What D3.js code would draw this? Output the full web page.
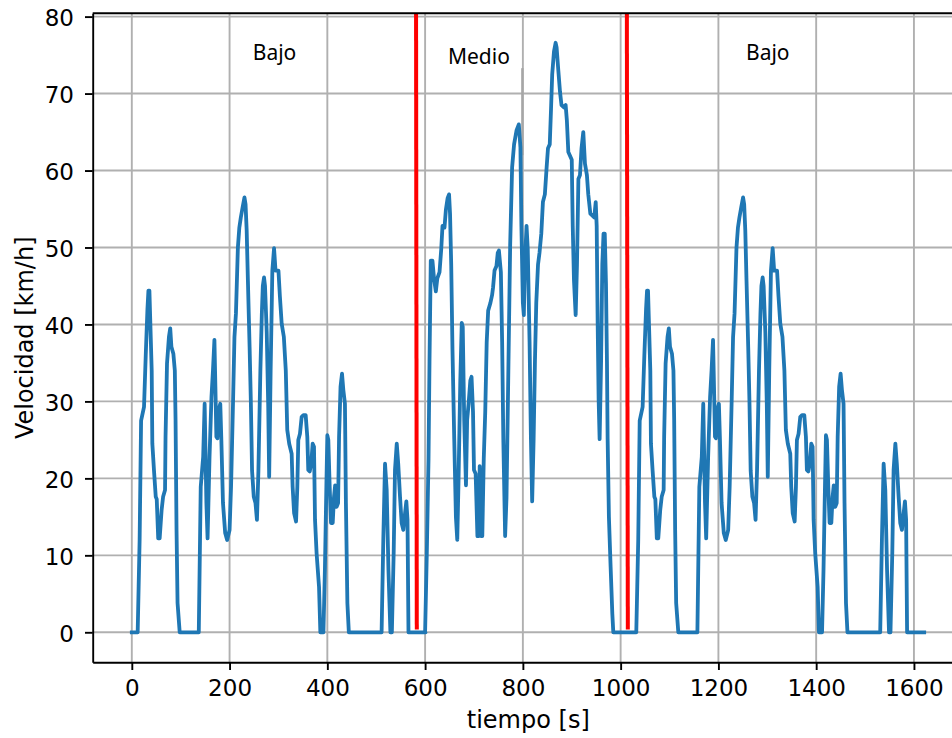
<!DOCTYPE html>
<html>
<head>
<meta charset="utf-8">
<script src="https://cdn.jsdelivr.net/npm/d3@7"></script>
<style>
  body { margin: 0; background: #fff; }
  svg text { font-family: "DejaVu Sans", sans-serif; }
</style>
</head>
<body>
<div id="chart"></div>
<script>
////////////////// Data ////////////////////
// fase "Bajo": [t local (s), v (km/h)]
var bajo = [
  [0,0],[12,0],[14,6],[16,12],[19,27.5],[25,29.3],[28.5,36],[32,42],[34,44.4],[36,44.4],[38,40],
  [40.7,34],[42,24.5],[45.4,21],[49,17.6],[51,17.3],[54,12.2],[57,12.2],[61,15.9],[64,17.6],
  [68,18.5],[69,25.4],[72,34.9],[76,38.4],[78.6,39.5],[81,37.1],[85,36.2],[88,34],[89.5,27.6],
  [91.5,13.3],[93.6,3.8],[98,0],[137,0],[141,18.9],[146,22.8],[149,29.7],[152.6,16.8],[155,12.2],
  [159,22.8],[163,30.6],[166,34],[169,38],[171,31.9],[173,25.4],[175,25.2],[177.6,28.9],[181,29.7],
  [183,25.4],[186.5,16.8],[191,12.9],[195,12],[200,13.3],[203,18.9],[207,29.7],[210,38.4],
  [213,41.4],[217,50],[220,52.6],[223,53.9],[226.6,55.2],[230.5,56.5],[232.7,55.6],[235,52.2],
  [237.5,45.7],[241,37],[243.5,30],[246,21],[249.5,17.6],[253,16.8],[256,14.6],[259,21],[263,34],
  [266,41.4],[268,45],[270.5,46.1],[272.5,45],[276,39],[279,29.7],[281,20.2],[284,34],[287.5,47],
  [291,49.9],[294,47],[300,47],[303,43.6],[306.6,40.1],[311,38.4],[315,34],[318,26.3],[322,24.5],
  [327,23.2],[329,18.9],[332,15.5],[336,14.4],[338.6,18.9],[340.6,25],[344,25.8],[347.5,28],
  [351,28.2],[355.7,28.2],[359,25.4],[361,21.1],[364,20.9],[367,21.9],[370,24.5],[372.7,24.1],
  [374.8,14.6],[378,10.3],[383,5.9],[385.7,0],[392,0],[395,8.1],[398,18.9],[400,25.6],[402,25],
  [404.8,18.9],[407.5,14.2],[411,14.2],[413.6,17.6],[416,19.1],[419,16.3],[422,16.8],[424,25.4],
  [427,31.9],[430,33.6],[432.7,31.5],[436,29.7],[438,16.8],[441,3.8],[444,0],[511,0],[514.6,12.4],
  [518,21.9],[521.4,18.5],[525,8.1],[529,0],[532,0],[535.7,10.3],[538.4,21.1],[542,24.5],
  [545,21.9],[548.7,17.6],[552,14.2],[555.5,13.3],[559,15.5],[561.6,17],[564,14.6],[566,0],[601,0]
];

// fase "Medio": [t local (s), v (km/h)]
var medio = [
  [0,0],[3.4,10],[7,22.6],[9,35.2],[11.6,48.3],[15,48.3],[18.5,45.8],[22,44.3],[25,46],[29.5,46.8],
  [33,49.8],[35.6,52.8],[39.7,52.6],[42.5,54.9],[46,56.4],[49,56.9],[51,54.4],[53.4,47.8],[56,36.7],
  [59.6,25.1],[63,15],[65.8,12],[68.5,20.1],[72,32.7],[75,40.2],[77,39.7],[80,27.6],[83.6,19.1],
  [86,27.6],[89,29.7],[92.5,32.7],[95,33.2],[98,28.6],[100,21.1],[103.4,20.6],[107,12.5],
  [109.6,12.5],[111.7,21.6],[114.4,12.5],[117,12.5],[120,22.6],[123,28.6],[126,37.7],[129,41.8],
  [133.6,42.8],[137,43.8],[139,44.8],[142,47],[146,47.6],[148.6,49.3],[151,49.6],[155,46.8],
  [157.6,37.7],[160,25.1],[163.7,12.5],[166.5,17.5],[170,32.7],[174,50.3],[178,60.4],[182,63.4],
  [187,65.2],[191.7,66],[195,63],[197,52.8],[200,42.8],[202,41.2],[204,47.8],[207.5,52.8],
  [210,49.8],[213.7,37.7],[216.5,25.1],[219,17],[222,25.1],[224.7,35.2],[227.4,42.8],[231,47.8],
  [234,49.3],[237.7,51.8],[241,55.9],[245,56.9],[248.6,60.4],[251.4,62.9],[255,63.4],[257.6,68],
  [260,72.5],[263.7,75.5],[267,76.6],[269,76],[272.5,73],[276,70.2],[279,68.5],[284,68.2],
  [287.5,68.5],[290,66.5],[293,62.4],[300,61.4],[302,52.8],[304.5,45.8],[308,41.2],[310.7,47.8],
  [313.6,58.9],[316.8,59.4],[320,62.9],[323.6,65],[327,60.9],[331,59.4],[333.8,56.9],[338,54.4],
  [346,53.9],[349,55.9],[351,52.8],[353,40.2],[355,30.2],[357,25.1],[360,35.2],[362.5,47.8],
  [365,51.8],[367.5,51.8],[370,45.3],[372,35.2],[373.4,25.1],[376,15],[379.5,8.5],[383,2.4],
  [385,0],[420,0]
];

// orden del ciclo y comienzo de cada fase (s)
var fases = [bajo, medio, bajo];
var inicioFase = [0, 600, 1020];

// separadores rojos: [t arriba, t abajo]
var separadores = [[581.5, 583], [1012.7, 1014.7]];

// etiquetas de fase
var etiquetas = ["Bajo", "Medio", "Bajo"];
var etiquetaT = [292, 710, 1301];
var etiquetaV = [74.3, 73.9, 74.3];

var xTicks = [0, 200, 400, 600, 800, 1000, 1200, 1400, 1600];
var yTicks = [0, 10, 20, 30, 40, 50, 60, 70, 80];

////////////////// Chart Parameters ////////////////////
var svgWidth = 952;
var svgHeight = 738;
var plot = { left: 92.7, right: 963.8, top: 13.3, bottom: 662.3 };

var svg = d3.select("#chart").append("svg")
  .attr("width", svgWidth)
  .attr("height", svgHeight);

var x = d3.scaleLinear().domain([-80, 1702]).range([plot.left, plot.right]);
var y = d3.scaleLinear().domain([-3.9, 80.43]).range([plot.bottom, plot.top]);

////////// Grid //////////
svg.append("g").selectAll("line")
  .data(xTicks).enter().append("line")
  .attr("x1", d => x(d)).attr("x2", d => x(d))
  .attr("y1", plot.top).attr("y2", plot.bottom)
  .attr("stroke", "#b0b0b0").attr("stroke-width", 1.9);

svg.append("g").selectAll("line")
  .data(yTicks).enter().append("line")
  .attr("x1", plot.left).attr("x2", plot.right)
  .attr("y1", d => y(d)).attr("y2", d => y(d))
  .attr("stroke", "#b0b0b0").attr("stroke-width", 1.9);

// trazo gris junto a 800 s
svg.append("line")
  .attr("x1", x(799)).attr("x2", x(799))
  .attr("y1", y(73.3)).attr("y2", y(62))
  .attr("stroke", "#a6a6a6").attr("stroke-width", 2.4);

////////// Series //////////
var ciclo = [];
fases.forEach(function (fase, i) {
  fase.forEach(function (p) {
    ciclo.push({ t: inicioFase[i] + p[0], v: p[1] });
  });
});

var line = d3.line()
  .x(d => x(d.t))
  .y(d => y(d.v));

svg.append("path")
  .datum(ciclo)
  .attr("d", line)
  .attr("fill", "none")
  .attr("stroke", "#1f77b4")
  .attr("stroke-width", 3.8)
  .attr("stroke-linejoin", "round")
  .attr("stroke-linecap", "square");

////////// Red separators //////////
svg.append("g").selectAll("line")
  .data(separadores).enter().append("line")
  .attr("x1", d => x(d[0])).attr("y1", plot.top)
  .attr("x2", d => x(d[1])).attr("y2", y(0.35))
  .attr("stroke", "#ff0000").attr("stroke-width", 4);

////////// Phase labels //////////
svg.append("g").selectAll("text")
  .data(etiquetas).enter().append("text")
  .attr("x", (d, i) => x(etiquetaT[i]))
  .attr("y", (d, i) => y(etiquetaV[i]))
  .attr("text-anchor", "middle")
  .style("font-family", "'Noto Sans', sans-serif")
  .style("font-size", "21px")
  .attr("fill", "#000")
  .text(d => d);

////////// Axes //////////
var xAxis = d3.axisBottom(x).tickValues(xTicks).tickFormat(d3.format("d"))
  .tickSize(7.7).tickSizeOuter(0).tickPadding(10);
var yAxis = d3.axisLeft(y).tickValues(yTicks).tickFormat(d3.format("d"))
  .tickSize(7.7).tickSizeOuter(0).tickPadding(11);

var gx = svg.append("g")
  .attr("transform", `translate(0, ${plot.bottom})`)
  .call(xAxis);
var gy = svg.append("g")
  .attr("transform", `translate(${plot.left}, 0)`)
  .call(yAxis);

[gx, gy].forEach(function (g) {
  g.selectAll("path.domain").attr("stroke", "#000").attr("stroke-width", 1.9);
  g.selectAll(".tick line").attr("stroke", "#000").attr("stroke-width", 1.9);
  g.selectAll(".tick text")
    .attr("fill", "#000")
    .style("font-family", "'DejaVu Sans', sans-serif")
    .style("font-size", "23px");
});
gy.selectAll(".tick text").attr("dy", "0.38em");

// top and right spines
svg.append("line")
  .attr("x1", plot.left).attr("x2", plot.right)
  .attr("y1", plot.top).attr("y2", plot.top)
  .attr("stroke", "#000").attr("stroke-width", 1.9);
svg.append("line")
  .attr("x1", plot.right).attr("x2", plot.right)
  .attr("y1", plot.top).attr("y2", plot.bottom)
  .attr("stroke", "#000").attr("stroke-width", 1.9);

////////// Axis labels //////////
svg.append("text")
  .attr("x", (plot.left + plot.right) / 2)
  .attr("y", 728)
  .attr("text-anchor", "middle")
  .style("font-size", "24px")
  .attr("fill", "#000")
  .text("tiempo [s]");

svg.append("text")
  .attr("transform", "rotate(-90)")
  .attr("x", -(plot.top + plot.bottom) / 2)
  .attr("y", 33)
  .attr("text-anchor", "middle")
  .style("font-size", "24px")
  .attr("fill", "#000")
  .text("Velocidad [km/h]");
</script>
</body>
</html>
